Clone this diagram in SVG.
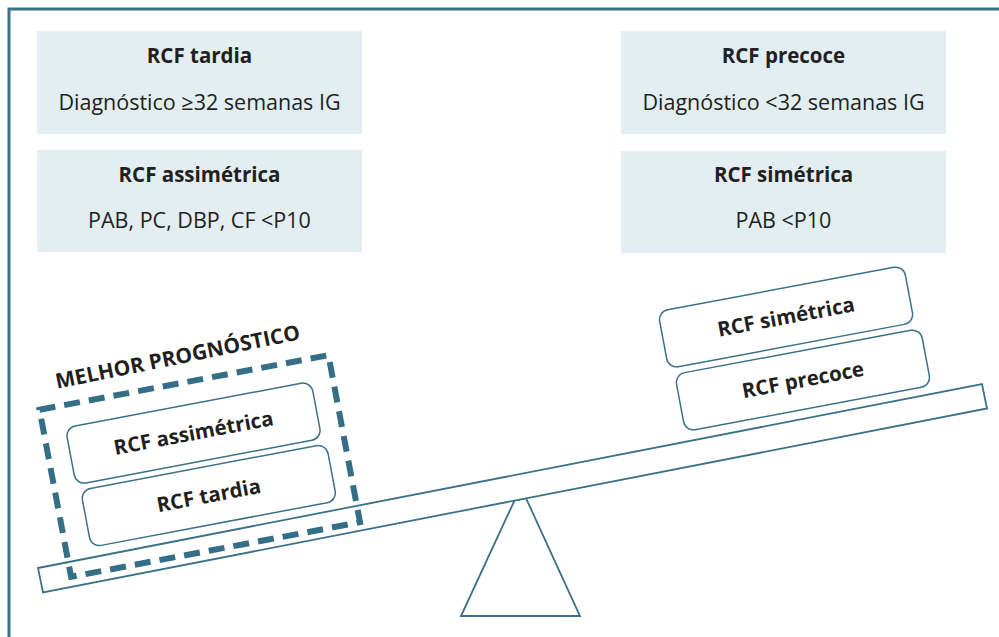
<svg xmlns="http://www.w3.org/2000/svg" width="999" height="637" viewBox="0 0 999 637">
<style>
.frame{fill:none;stroke:#3b7189;stroke-width:3}
.info{fill:#e2eef2}
.t{font-family:"Open Sans","Noto Sans","Liberation Sans",sans-serif;fill:#231f20;text-anchor:middle}
.b{font-weight:bold;font-size:20.5px}
.m{font-weight:bold;font-size:21px}
.r{font-size:21.5px}
.card{fill:#fff;stroke:#3b7189;stroke-width:1.5}
.line{fill:#fff;stroke:#3b7189;stroke-width:1.8;stroke-linejoin:miter}
.dash{fill:none;stroke:#356f87;stroke-width:6;stroke-dasharray:16 9.08}
</style>
<rect x="0" y="0" width="999" height="637" fill="#fff"/>
<rect class="frame" x="9" y="9" width="1100" height="700"/>

<g id="box-tardia">
<rect class="info" x="37" y="31" width="325" height="103"/>
<text class="t b" x="199.5" y="63">RCF tardia</text>
<text class="t r" x="199.5" y="110">Diagnóstico ≥32 semanas IG</text>
</g>
<g id="box-assimetrica">
<rect class="info" x="37" y="150" width="325" height="102"/>
<text class="t b" x="199.5" y="182">RCF assimétrica</text>
<text class="t r" x="199.5" y="228">PAB, PC, DBP, CF &lt;P10</text>
</g>
<g id="box-precoce">
<rect class="info" x="621" y="31" width="325" height="103"/>
<text class="t b" x="783.5" y="63">RCF precoce</text>
<text class="t r" x="783.5" y="110">Diagnóstico &lt;32 semanas IG</text>
</g>
<g id="box-simetrica">
<rect class="info" x="621" y="151" width="325" height="102"/>
<text class="t b" x="783.5" y="182">RCF simétrica</text>
<text class="t r" x="783.5" y="228">PAB &lt;P10</text>
</g>

<g id="seesaw">
<polygon class="line" points="461,616 514.5,500.5 526,498.2 580,616"/>
<polygon class="line" points="38,568 982,384 987,408.5 43,592.5"/>
</g>

<g id="stack-left" transform="translate(199.75,466) rotate(-10.7)">
<g id="card-assimetrica">
<rect class="card" x="-125" y="-62.5" width="250" height="58" rx="10"/>
<text class="t b" x="0" y="-26.5">RCF assimétrica</text>
</g>
<g id="card-tardia">
<rect class="card" x="-121.6" y="1.7" width="250" height="58" rx="10"/>
<text class="t b" x="3.4" y="37.7">RCF tardia</text>
</g>
<rect id="melhor-frame" class="dash" x="-147" y="-85" width="294" height="170"/>
</g>

<g id="label-melhor">
<text class="t m" x="179" y="364" transform="rotate(-11.5 179 364)">MELHOR PROGNÓSTICO</text>
</g>

<g id="stack-right" transform="translate(794.5,348.5) rotate(-10.6)">
<g id="card-simetrica">
<rect class="card" x="-127.5" y="-61.5" width="250" height="58" rx="10"/>
<text class="t b" x="-2.5" y="-25.5">RCF simétrica</text>
</g>
<g id="card-precoce">
<rect class="card" x="-122.5" y="3.5" width="250" height="58" rx="10"/>
<text class="t b" x="2.5" y="39.5">RCF precoce</text>
</g>
</g>

<g id="connectors"></g>
</svg>
